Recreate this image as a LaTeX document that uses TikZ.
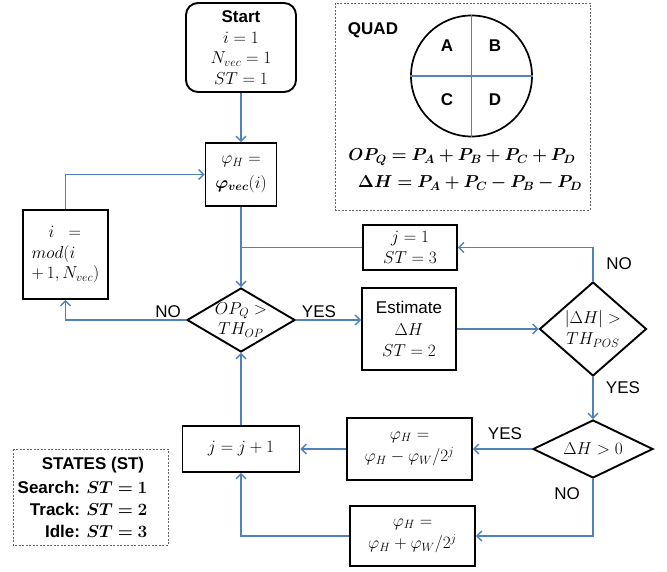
\documentclass[tikz,border=0pt]{standalone}
\usepackage{amsmath}
\usepackage{bm}
\usepackage{fontspec}
\setmainfont{Liberation Sans}
\usetikzlibrary{shapes.geometric,arrows.meta}
\definecolor{cblue}{RGB}{79,129,189}
\begin{document}
\begin{tikzpicture}[x=1pt,y=-1pt,
  txt/.style={font=\fontsize{17}{20.5}\selectfont},
  box/.style={draw=black,line width=1.9pt,align=center,inner sep=2pt,txt},
  dia/.style={draw=black,line width=1.9pt,diamond,inner sep=0pt},
  flow/.style={draw=cblue,line width=1.3pt,-{Straight Barb[length=5pt,width=10pt,line width=1.3pt]}},
  conn/.style={draw=cblue,line width=1.3pt},
  lbl/.style={txt,inner sep=0pt},
  legend/.style={draw=black!60,line width=0.8pt,dash pattern=on 2pt off 1.5pt}
]
\useasboundingbox (0,0) rectangle (667,572);

% boxes
\node[box, rounded corners=12pt, minimum width=110pt, minimum height=89pt] (start) at (241,47.5)
  {\textbf{Start}\\$i=1$\\$N_{vec}=1$\\$ST=1$};
\node[box, minimum width=71pt, minimum height=63pt] (phi) at (241,174.5)
  {$\varphi_H=$\\[4pt]$\bm{\varphi_{vec}}(i)$};
\node[box, minimum width=85pt, minimum height=89pt, align=left] (ibox) at (65.5,254.5)
  {\quad$i\ \ =$\\$mod(i$\\$+\,1,N_{vec})$};
\node[box, minimum width=94pt, minimum height=45pt] (j1) at (410,247.5)
  {$j=1$\\$ST=3$};
\node[box, minimum width=94pt, minimum height=82pt] (est) at (409,329)
  {Estimate\\[1pt]$\Delta H$\\[1pt]$ST=2$};
\node[box, minimum width=117pt, minimum height=46pt] (jj) at (241,449)
  {$j=j+1$};
\node[box, minimum width=125pt, minimum height=62pt] (pm) at (409.5,449)
  {$\varphi_H=$\\[2pt]$\varphi_H-\varphi_W/2^j$};
\node[box, minimum width=125pt, minimum height=60pt] (pp) at (412.5,536)
  {$\varphi_H=$\\[2pt]$\varphi_H+\varphi_W/2^j$};

% diamonds
\node[dia, minimum width=108pt, minimum height=64pt] (op) at (241,320) {};
\node[txt, align=center] (optxt) at (241,320) {$OP_Q>$\\$TH_{OP}$};
\node[dia, minimum width=107pt, minimum height=94pt] (dh) at (593,329) {};
\node[txt, align=center] (dhtxt) at (593,329) {$|\Delta H|>$\\$TH_{POS}$};
\node[dia, minimum width=120pt, minimum height=58pt] (d0) at (593,449) {};
\node[txt] (d0txt) at (593,449) {$\Delta H>0$};

% connectors
\draw[flow] (start) -- (phi);
\draw[flow] (phi.south) -- (op.north);
\coordinate (jn) at (phi.south |- j1.west);
\draw[conn] (jn) -- (j1.west);
\draw[flow] (dh.north) |- (j1.east);
\draw[flow] (op.west) -| (ibox.south);
\draw[flow] (ibox.north) |- (phi.west);
\draw[flow] (op.east) -- (op.east -| est.west);
\draw[flow] (est.east) -- (dh.west);
\draw[flow] (dh.south) -- (d0.north);
\draw[flow] (d0.west) -- (pm.east);
\draw[flow] (pm.west) -- (jj.east);
\draw[flow] (jj.north) -- (op.south);
\draw[flow] (d0.south) |- (pp.east);
\draw[flow] (pp.west) -| (jj.south);

% labels
\node[lbl] (no1) at (619,264) {NO};
\node[lbl] (no2) at (168,312) {NO};
\node[lbl] (yes1) at (319,312) {YES};
\node[lbl] (yes2) at (623,388) {YES};
\node[lbl] (yes3) at (505,434) {YES};
\node[lbl] (no3) at (567,494) {NO};

% QUAD legend
\draw[legend] (335,3) rectangle (590,210);
\node[txt] (quad) at (373,30) {\textbf{QUAD}};
\node[circle, draw=black, line width=1.7pt, minimum size=121pt, inner sep=0pt] (circ) at (471.5,76) {};
\draw[conn] (circ.north) -- (circ.south);
\draw[conn] (circ.west) -- (circ.east);
\node[txt] (qa) at (447,46) {\textbf{A}};
\node[txt] (qb) at (495,46) {\textbf{B}};
\node[txt] (qc) at (447,100) {\textbf{C}};
\node[txt] (qd) at (495,100) {\textbf{D}};
\node[txt] (eq1) at (462,157) {$\bm{OP_Q=P_A+P_B+P_C+P_D}$};
\node[txt] (eq2) at (470,183) {$\bm{\Delta H=P_A+P_C-P_B-P_D}$};

% STATES legend
\draw[legend] (13,449) rectangle (168,545);
\node[txt] (st0) at (93,465) {\textbf{STATES (ST)}};
\node[txt, anchor=east] (st1) at (151,487) {\textbf{Search:} $\bm{ST=1}$};
\node[txt, anchor=east] (st2) at (151,509) {\textbf{Track:} $\bm{ST=2}$};
\node[txt, anchor=east] (st3) at (151,531) {\textbf{Idle:} $\bm{ST=3}$};
\end{tikzpicture}
\end{document}
